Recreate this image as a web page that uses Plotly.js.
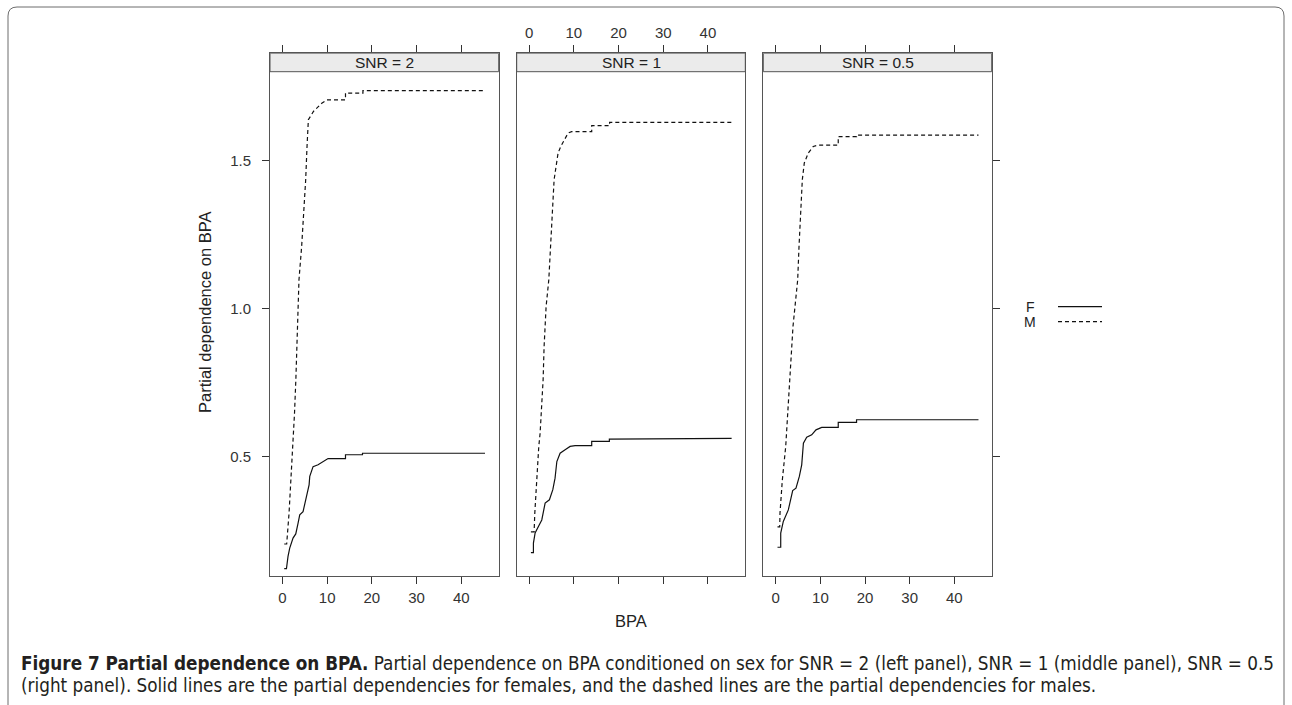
<!DOCTYPE html>
<html>
<head>
<meta charset="utf-8">
<script src="https://cdn.plot.ly/plotly-3.0.1.min.js"></script>
<style>html,body{margin:0;padding:0;background:#fff;}#chart{width:1292px;height:705px;}</style>
</head>
<body>
<div id="chart"></div>
<script>
// ---------- data ----------
const panels = ["SNR = 2", "SNR = 1", "SNR = 0.5"];
const xTicks = [0, 10, 20, 30, 40];
const yTicks = [0.5, 1.0, 1.5];
const yTickText = ["0.5", "1.0", "1.5"];
const sexes = ["F", "M"];

// SNR = 2
const bpa_snr2_F = [0.4, 0.9, 1.25, 1.63, 2.37, 2.98, 3.5, 3.87, 4.61, 5.37, 5.96, 6.11, 6.85, 7.97, 9.09, 10.2, 14.1, 14.1, 17.9, 17.9, 45.3];
const pd_snr2_F  = [0.123, 0.123, 0.164, 0.192, 0.226, 0.240, 0.276, 0.304, 0.315, 0.366, 0.405, 0.434, 0.467, 0.473, 0.484, 0.494, 0.494, 0.507, 0.507, 0.512, 0.512];
const bpa_snr2_M = [0.4, 0.95, 1.48, 1.93, 2.37, 2.7, 3.0, 3.2, 3.45, 3.7, 4.3, 4.8, 5.2, 5.5, 5.8, 6.94, 8.06, 8.8, 9.92, 14.1, 14.1, 18.0, 18.0, 45.3];
const pd_snr2_M  = [0.206, 0.206, 0.310, 0.422, 0.535, 0.647, 0.760, 0.872, 0.985, 1.097, 1.210, 1.322, 1.435, 1.547, 1.637, 1.665, 1.682, 1.693, 1.704, 1.704, 1.727, 1.727, 1.735, 1.735];

// SNR = 1
const bpa_snr1_F = [0.4, 0.96, 0.96, 1.34, 2.08, 2.83, 3.58, 4.54, 5.3, 5.8, 6.2, 6.93, 8.05, 9.17, 10.29, 14.0, 14.0, 17.95, 17.95, 45.3];
const pd_snr1_F  = [0.177, 0.177, 0.209, 0.243, 0.265, 0.287, 0.344, 0.355, 0.389, 0.428, 0.484, 0.512, 0.524, 0.535, 0.538, 0.538, 0.552, 0.552, 0.560, 0.562];
const bpa_snr1_M = [0.4, 1.12, 1.27, 1.64, 2.16, 2.46, 2.76, 3.13, 3.35, 3.65, 3.8, 4.4, 4.84, 5.14, 5.59, 6.48, 7.08, 8.72, 9.5, 14.0, 14.0, 18.0, 18.0, 45.3];
const pd_snr1_M  = [0.247, 0.247, 0.310, 0.422, 0.535, 0.580, 0.647, 0.760, 0.872, 0.985, 1.007, 1.097, 1.210, 1.322, 1.435, 1.525, 1.547, 1.592, 1.597, 1.597, 1.617, 1.617, 1.628, 1.628];

// SNR = 0.5
const bpa_snr05_F = [0.4, 1.12, 1.12, 1.7, 2.82, 3.8, 4.54, 5.29, 5.82, 6.2, 6.94, 8.06, 9.02, 10.3, 14.0, 14.0, 18.1, 18.1, 45.4];
const pd_snr05_F  = [0.195, 0.195, 0.243, 0.282, 0.321, 0.386, 0.394, 0.434, 0.473, 0.546, 0.566, 0.574, 0.591, 0.599, 0.599, 0.616, 0.616, 0.625, 0.625];
const bpa_snr05_M = [0.4, 0.9, 0.96, 1.48, 2.24, 2.69, 3.13, 3.43, 3.87, 4.17, 4.92, 5.22, 5.66, 5.96, 6.4, 7.3, 8.42, 9.5, 14.0, 14.0, 18.1, 18.1, 45.4];
const pd_snr05_M  = [0.264, 0.264, 0.310, 0.422, 0.535, 0.647, 0.760, 0.872, 0.940, 0.985, 1.097, 1.210, 1.322, 1.435, 1.491, 1.525, 1.547, 1.551, 1.551, 1.580, 1.580, 1.585, 1.585];

const seriesX = [[bpa_snr2_F, bpa_snr2_M], [bpa_snr1_F, bpa_snr1_M], [bpa_snr05_F, bpa_snr05_M]];
const seriesY = [[pd_snr2_F, pd_snr2_M], [pd_snr1_F, pd_snr1_M], [pd_snr05_F, pd_snr05_M]];

const captionBold = "Figure 7 Partial dependence on BPA.";
const captionLine1 = " Partial dependence on BPA conditioned on sex for SNR = 2 (left panel), SNR = 1 (middle panel), SNR = 0.5";
const captionLine2 = "(right panel). Solid lines are the partial dependencies for females, and the dashed lines are the partial dependencies for males.";

// ---------- layout geometry (pixels) ----------
const W = 1292, H = 705;
const px = v => v / W;
const py = v => 1 - v / H;
const panelX = [[270, 498.7], [516.7, 745.3], [763.3, 991.7]];
const plotTop = 53.3, stripBottom = 71.7, plotBottom = 575.7;
const yDataTop = 1.799, yDataBot = 0.099;
const unitPx = (plotBottom - stripBottom) / (yDataTop - yDataBot);
const yTop = yDataTop + (stripBottom - plotTop) / unitPx;
const xRange = [-2.78, 48.36];

const FONT = '"Liberation Sans", Arial, Helvetica, sans-serif';
const CAP = '"Liberation Sans Narrow", "DejaVu Sans Condensed", "Roboto Condensed", "Liberation Sans", sans-serif';
const TXT = "#222";
const AX = "#555";
const dashes = ["solid", "4px,3px"];

// fit caption font size so line 1 spans the same width as in the reference
function captionSize(target) {
  const ctx = document.createElement("canvas").getContext("2d");
  ctx.font = "bold 100px " + CAP;
  let w = ctx.measureText(captionBold).width;
  ctx.font = "100px " + CAP;
  w += ctx.measureText(captionLine1).width;
  return Math.min(19, 100 * target / w);
}
const capSize = captionSize(1254);

const traces = [];
for (let p = 0; p < 3; p++) {
  for (let s = 0; s < 2; s++) {
    traces.push({
      type: "scatter", mode: "lines",
      x: seriesX[p][s], y: seriesY[p][s],
      xaxis: p === 0 ? "x" : "x" + (p + 1),
      yaxis: p === 0 ? "y" : "y" + (p + 1),
      line: {color: "#111", width: 1.2, dash: dashes[s]},
      name: sexes[s], showlegend: false, hoverinfo: "skip"
    });
  }
}

const layout = {
  width: W, height: H, autosize: false,
  margin: {l: 0, r: 0, t: 0, b: 0},
  paper_bgcolor: "#fff", plot_bgcolor: "#fff",
  showlegend: false,
  font: {family: FONT, size: 15, color: TXT},
  shapes: [], annotations: []
};

for (let p = 0; p < 3; p++) {
  const xa = p === 0 ? "xaxis" : "xaxis" + (p + 1);
  const ya = p === 0 ? "yaxis" : "yaxis" + (p + 1);
  const xr = p === 0 ? "x" : "x" + (p + 1);
  const yr = p === 0 ? "y" : "y" + (p + 1);
  layout[xa] = {
    domain: [px(panelX[p][0]), px(panelX[p][1])],
    range: xRange, anchor: yr,
    side: p === 1 ? "top" : "bottom",
    tickmode: "array", tickvals: xTicks, ticktext: xTicks.map(String),
    ticks: "outside", ticklen: 7, tickwidth: 1, tickcolor: "#333",
    showticklabels: true,
    ticklabelstandoff: 1,
    tickfont: {family: FONT, size: 15, color: "#333"},
    showline: true, linecolor: AX, linewidth: 1, mirror: "ticks",
    showgrid: false, zeroline: false, fixedrange: true
  };
  layout[ya] = {
    domain: [py(plotBottom), py(plotTop)],
    range: [yDataBot, yTop], anchor: xr,
    side: p === 2 ? "right" : "left",
    tickmode: "array", tickvals: yTicks, ticktext: yTickText,
    ticks: p === 1 ? "" : "outside", ticklen: 7, tickwidth: 1, tickcolor: "#333",
    showticklabels: p === 0,
    ticklabelstandoff: 8,
    tickfont: {family: FONT, size: 15, color: "#333"},
    showline: true, linecolor: AX, linewidth: 1, mirror: true,
    showgrid: false, zeroline: false, fixedrange: true
  };
  // strip header
  layout.shapes.push({
    type: "rect", xref: xr + " domain", yref: yr,
    x0: 0, x1: 1, y0: yDataTop, y1: yTop,
    fillcolor: "#ebebeb", line: {color: AX, width: 1}, layer: "below"
  });
  layout.annotations.push({
    xref: xr + " domain", yref: "paper", x: 0.5, y: py((plotTop + stripBottom) / 2),
    text: panels[p], showarrow: false, xanchor: "center", yanchor: "middle",
    font: {family: FONT, size: 15.5, color: TXT}
  });
}

// axis titles
layout.annotations.push({
  xref: "paper", yref: "paper", x: px(631), y: py(621),
  text: "BPA", showarrow: false, xanchor: "center", yanchor: "middle",
  font: {family: FONT, size: 16.5, color: TXT}
});
layout.annotations.push({
  xref: "paper", yref: "paper", x: px(205), y: py(312),
  text: "Partial dependence on BPA", textangle: -90, showarrow: false,
  xanchor: "center", yanchor: "middle",
  font: {family: FONT, size: 16.5, color: TXT}
});

// legend (key text left, line right)
const legY = [306.7, 321.7];
for (let s = 0; s < 2; s++) {
  layout.annotations.push({
    xref: "paper", yref: "paper", x: px(1030), y: py(legY[s]),
    text: sexes[s], showarrow: false, xanchor: "center", yanchor: "middle",
    font: {family: FONT, size: 14, color: TXT}
  });
  layout.shapes.push({
    type: "line", xref: "paper", yref: "paper",
    x0: px(1058), x1: px(1102), y0: py(legY[s]), y1: py(legY[s]),
    line: {color: "#111", width: 1.2, dash: dashes[s]}
  });
}

// caption
layout.annotations.push({
  xref: "paper", yref: "paper", x: px(19), y: py(663),
  text: "<b>" + captionBold + "</b>" + captionLine1,
  showarrow: false, xanchor: "left", yanchor: "middle", align: "left",
  font: {family: CAP, size: capSize, color: "#231f20"}
});
layout.annotations.push({
  xref: "paper", yref: "paper", x: px(19), y: py(685),
  text: captionLine2,
  showarrow: false, xanchor: "left", yanchor: "middle", align: "left",
  font: {family: CAP, size: capSize, color: "#231f20"}
});

// outer rounded frame
const fx0 = px(8), fx1 = px(1284), fy0 = py(7), fyb = -0.05, rx = px(9), ry = 9 / H;
layout.shapes.push({
  type: "path", xref: "paper", yref: "paper",
  path: `M ${fx0},${fyb} L ${fx0},${fy0 - ry} Q ${fx0},${fy0} ${fx0 + rx},${fy0} L ${fx1 - rx},${fy0} Q ${fx1},${fy0} ${fx1},${fy0 - ry} L ${fx1},${fyb}`,
  line: {color: "#6d6d6d", width: 1}
});

Plotly.newPlot("chart", traces, layout, {staticPlot: true, displayModeBar: false});
</script>
</body>
</html>
